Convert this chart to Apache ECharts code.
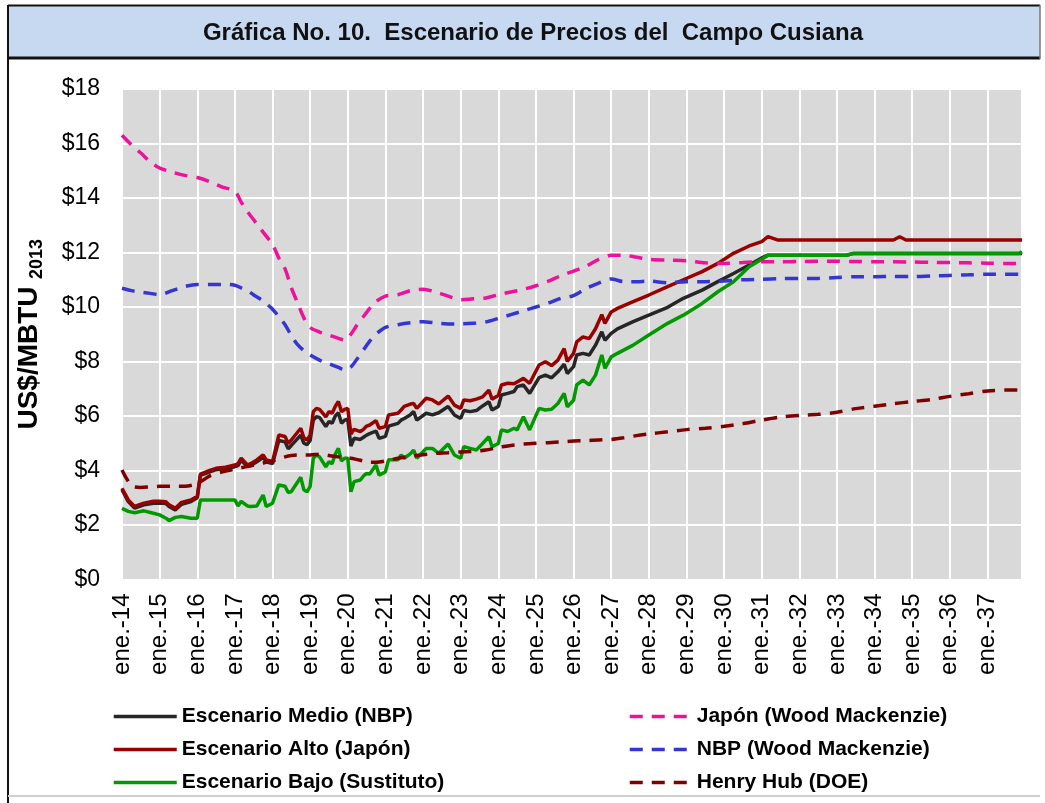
<!DOCTYPE html>
<html>
<head>
<meta charset="utf-8">
<title>Escenario de Precios del Campo Cusiana</title>
<script src="https://cdn.jsdelivr.net/npm/echarts@6/dist/echarts.min.js"></script>
<style>
  html, body { margin: 0; padding: 0; background: #fff; }
  #grafica { width: 1045px; height: 803px; }
</style>
</head>
<body>
<div id="grafica"></div>
<script>
  // etiquetas del eje X (una por año, en enero)
  const etiquetasX = ['ene.-14', 'ene.-15', 'ene.-16', 'ene.-17', 'ene.-18', 'ene.-19', 'ene.-20', 'ene.-21',
    'ene.-22', 'ene.-23', 'ene.-24', 'ene.-25', 'ene.-26', 'ene.-27', 'ene.-28', 'ene.-29', 'ene.-30',
    'ene.-31', 'ene.-32', 'ene.-33', 'ene.-34', 'ene.-35', 'ene.-36', 'ene.-37'];

  // escenarios: meses contados desde ene.-14
  const mesesEsc = [0, 2, 4, 7, 10, 12, 14, 15, 17, 19, 22, 24,
    25, 28, 30, 33, 36, 37, 38, 40, 41, 43, 45, 46, 48,
    50, 52, 53, 54, 57, 58, 59, 60, 61, 62, 63, 65, 66, 67, 68, 69, 70, 71, 72,
    73, 74, 76, 77, 78, 79, 81, 82, 84, 85, 88, 89, 90, 92, 93, 94,
    97, 99, 101, 104, 106, 108, 109, 111, 113, 115, 117, 118, 120,
    121, 123, 125, 126, 128, 130, 133, 135, 137, 139, 141, 142, 144,
    145, 147, 149, 151, 153, 154, 156, 158, 163, 168, 174, 179, 185, 190, 195, 200, 204,
    206, 209, 231, 233, 246, 248, 250, 286, 287];
  const escAlto = [3.35, 2.92, 2.68, 2.80, 2.87, 2.87, 2.85, 2.74, 2.61, 2.83, 2.92, 3.05,
    3.87, 4.00, 4.08, 4.12, 4.20, 4.25, 4.45, 4.20, 4.25, 4.39, 4.57, 4.39, 4.32,
    5.30, 5.25, 4.99, 5.12, 5.55, 5.20, 5.12, 5.30, 6.16, 6.28, 6.24, 5.97, 6.16, 6.10, 6.35, 6.53, 6.16, 6.24, 6.28,
    5.34, 5.51, 5.43, 5.51, 5.63, 5.67, 5.83, 5.55, 5.61, 6.04, 6.10, 6.22, 6.35, 6.44, 6.46, 6.28,
    6.65, 6.59, 6.44, 6.73, 6.40, 6.28, 6.59, 6.56, 6.62, 6.70, 6.95, 6.62, 6.75,
    7.14, 7.20, 7.18, 7.25, 7.38, 7.20, 7.87, 7.99, 7.85, 8.05, 8.47, 8.00, 8.30,
    8.72, 8.90, 8.84, 9.20, 9.72, 9.40, 9.82, 9.95, 10.20, 10.44, 10.75, 11.00, 11.30, 11.60, 11.97, 12.24, 12.40,
    12.58, 12.46, 12.46, 12.46, 12.46, 12.58, 12.46, 12.46, 12.46];
  const escMedio = [3.30, 2.86, 2.62, 2.74, 2.80, 2.81, 2.79, 2.68, 2.55, 2.76, 2.86, 3.00,
    3.82, 3.95, 4.03, 4.07, 4.14, 4.18, 4.38, 4.14, 4.18, 4.32, 4.48, 4.32, 4.25,
    5.10, 5.05, 4.80, 4.92, 5.30, 5.00, 4.95, 5.10, 5.85, 5.97, 5.95, 5.61, 5.80, 5.73, 6.00, 6.12, 5.73, 5.85, 5.88,
    4.90, 5.18, 5.14, 5.22, 5.30, 5.35, 5.45, 5.18, 5.25, 5.63, 5.73, 5.85, 5.91, 6.05, 6.16, 5.85,
    6.10, 6.04, 6.12, 6.35, 6.04, 5.91, 6.20, 6.16, 6.20, 6.37, 6.52, 6.22, 6.35,
    6.77, 6.83, 6.90, 7.08, 7.14, 6.83, 7.41, 7.50, 7.40, 7.62, 7.90, 7.56, 7.81,
    8.24, 8.30, 8.24, 8.60, 9.09, 8.78, 9.03, 9.20, 9.46, 9.70, 9.99, 10.32, 10.62, 10.93, 11.23, 11.54, 11.80,
    11.90, 11.90, 11.90, 11.96, 11.96, 11.96, 11.96, 11.96, 11.96];
  const escBajo = [2.61, 2.50, 2.45, 2.52, 2.43, 2.37, 2.25, 2.16, 2.28, 2.31, 2.25, 2.25,
    2.92, 2.92, 2.92, 2.92, 2.92, 2.70, 2.87, 2.70, 2.68, 2.70, 3.10, 2.68, 2.80,
    3.47, 3.42, 3.19, 3.23, 3.75, 3.29, 3.22, 3.42, 4.45, 4.57, 4.50, 4.14, 4.32, 4.25, 4.60, 4.81, 4.35, 4.45, 4.45,
    3.22, 3.59, 3.65, 3.80, 3.89, 3.87, 4.20, 3.83, 3.95, 4.39, 4.39, 4.57, 4.45, 4.62, 4.75, 4.45,
    4.81, 4.81, 4.63, 4.97, 4.57, 4.45, 4.87, 4.81, 4.75, 4.99, 5.24, 4.87, 4.99,
    5.49, 5.43, 5.55, 5.49, 5.97, 5.49, 6.28, 6.22, 6.25, 6.46, 6.83, 6.34, 6.58,
    7.14, 7.32, 7.14, 7.50, 8.24, 7.75, 8.17, 8.30, 8.60, 8.97, 9.40, 9.70, 10.13, 10.56, 10.93, 11.48, 11.75,
    11.90, 11.90, 11.90, 11.96, 11.96, 11.96, 11.96, 11.96, 12.03];

  // referencias externas
  const mesesRef = [0, 3, 6, 9, 12, 16, 20, 24, 28, 32, 36, 38, 40, 42, 44, 46, 48, 50, 52, 54,
    56, 58, 60, 63, 66, 69, 71, 73, 75, 77, 79, 81, 84, 88, 92, 96, 100, 104, 108, 112,
    116, 120, 124, 128, 132, 136, 140, 144, 148, 152, 156, 160, 164, 168, 174, 180, 186, 192, 198, 204,
    210, 216, 222, 228, 234, 240, 246, 252, 258, 264, 270, 276, 282, 287];
  const japonWM = [16.30, 15.95, 15.65, 15.33, 15.10, 14.95, 14.83, 14.75, 14.60, 14.40, 14.25, 13.85, 13.50, 13.20, 12.90, 12.60, 12.30, 11.80, 11.40, 10.70,
    10.15, 9.60, 9.25, 9.08, 8.97, 8.85, 8.78, 9.00, 9.35, 9.65, 9.95, 10.20, 10.40, 10.45, 10.60, 10.65, 10.55, 10.40, 10.27, 10.30,
    10.33, 10.45, 10.55, 10.65, 10.78, 10.95, 11.15, 11.32, 11.50, 11.75, 11.90, 11.90, 11.83, 11.75, 11.72, 11.70, 11.62, 11.60, 11.63, 11.66,
    11.66, 11.67, 11.68, 11.68, 11.67, 11.66, 11.66, 11.65, 11.64, 11.63, 11.62, 11.61, 11.60, 11.60];
  const nbpWM = [10.69, 10.60, 10.55, 10.50, 10.45, 10.60, 10.75, 10.83, 10.83, 10.83, 10.80, 10.70, 10.60, 10.44, 10.30, 10.13, 9.92, 9.65, 9.35, 8.95,
    8.62, 8.40, 8.24, 8.05, 7.92, 7.78, 7.69, 7.80, 8.10, 8.42, 8.75, 9.00, 9.25, 9.35, 9.42, 9.46, 9.42, 9.38, 9.38, 9.40,
    9.45, 9.58, 9.72, 9.86, 10.00, 10.15, 10.32, 10.42, 10.68, 10.88, 11.03, 10.93, 10.93, 10.95, 10.89, 10.93, 10.93, 10.95, 11.00, 11.02,
    11.04, 11.05, 11.05, 11.08, 11.11, 11.11, 11.12, 11.12, 11.14, 11.16, 11.18, 11.20, 11.20, 11.20];
  const henryHub = [4.02, 3.45, 3.38, 3.40, 3.42, 3.42, 3.42, 3.52, 3.80, 3.95, 4.05, 4.10, 4.15, 4.20, 4.25, 4.30, 4.35, 4.42, 4.50, 4.55,
    4.57, 4.57, 4.57, 4.60, 4.55, 4.50, 4.48, 4.45, 4.40, 4.35, 4.30, 4.30, 4.35, 4.45, 4.52, 4.58, 4.63, 4.65, 4.68, 4.70,
    4.75, 4.85, 4.92, 4.97, 5.00, 5.02, 5.05, 5.08, 5.10, 5.12, 5.14, 5.20, 5.28, 5.34, 5.42, 5.50, 5.55, 5.62, 5.72, 5.85,
    5.96, 6.02, 6.06, 6.14, 6.27, 6.36, 6.45, 6.53, 6.60, 6.72, 6.82, 6.92, 6.95, 6.95];

  const fuente = "'Liberation Sans', Arial, sans-serif";

  function linea(nombre, meses, valores, color, discontinua) {
    return {
      name: nombre,
      type: 'line',
      symbol: 'none',
      color: color,
      smooth: discontinua ? 0.3 : false,
      data: meses.map(function (m, i) { return [m, valores[i]]; }),
      lineStyle: { width: 3.5, color: color, type: discontinua ? [13, 9] : 'solid' },
      animation: false
    };
  }

  const estiloLeyenda = { fontSize: 21, fontWeight: 'bold', color: '#000', fontFamily: fuente };

  let grafica = echarts.init(document.getElementById('grafica'));
  grafica.setOption({
    backgroundColor: '#fff',
    textStyle: { fontFamily: fuente },
    graphic: [
      { type: 'rect', shape: { x: 8, y: 6, width: 1032, height: 51 }, style: { fill: '#c6d9f1' } },
      { type: 'line', shape: { x1: 8, y1: 5.5, x2: 1040, y2: 5.5 }, style: { stroke: '#111', lineWidth: 2 } },
      { type: 'line', shape: { x1: 8, y1: 58, x2: 1040, y2: 58 }, style: { stroke: '#111', lineWidth: 3 } },
      { type: 'line', shape: { x1: 1040, y1: 5, x2: 1040, y2: 59 }, style: { stroke: '#777', lineWidth: 1.5 } },
      { type: 'line', shape: { x1: 8, y1: 5, x2: 8, y2: 803 }, style: { stroke: '#111', lineWidth: 2 } },
      { type: 'line', shape: { x1: 8, y1: 796, x2: 1040, y2: 796 }, style: { stroke: '#d0d0d0', lineWidth: 2 } },
      {
        type: 'text', x: 533, y: 33,
        style: {
          text: 'Gráfica No. 10.  Escenario de Precios del  Campo Cusiana',
          font: 'bold 24px ' + fuente, fill: '#111',
          textAlign: 'center', textVerticalAlign: 'middle'
        }
      }
    ],
    grid: {
      left: 122, right: 23, top: 89, bottom: 223.5,
      show: true, backgroundColor: '#d9d9d9', borderWidth: 0
    },
    legend: [
      {
        data: ['Escenario Medio (NBP)', 'Escenario Alto (Japón)', 'Escenario Bajo (Sustituto)'],
        orient: 'vertical', left: 112, top: 706, padding: 0,
        itemWidth: 63, itemHeight: 14, itemGap: 12,
        itemStyle: { opacity: 0 },
        lineStyle: { width: 3.5 },
        textStyle: estiloLeyenda
      },
      {
        data: ['Japón (Wood Mackenzie)', 'NBP (Wood Mackenzie)', 'Henry Hub (DOE)'],
        orient: 'vertical', left: 628, top: 706, padding: 0,
        itemWidth: 62, itemHeight: 14, itemGap: 12,
        itemStyle: { opacity: 0 },
        lineStyle: { width: 3.5 },
        textStyle: estiloLeyenda
      }
    ],
    xAxis: {
      type: 'value',
      min: 0,
      max: 287,
      interval: 12,
      axisLine: { show: false },
      axisTick: { show: false },
      splitLine: { show: true, lineStyle: { color: '#fff', width: 2 } },
      axisLabel: {
        rotate: 90,
        margin: 14,
        fontSize: 24,
        color: '#000',
        showMaxLabel: false,
        formatter: function (v) {
          return v % 12 === 0 ? etiquetasX[v / 12] : '';
        }
      }
    },
    yAxis: {
      type: 'value',
      min: 0,
      max: 18,
      interval: 2,
      axisLine: { show: false },
      axisTick: { show: false },
      splitLine: { lineStyle: { color: '#fff', width: 2 } },
      axisLabel: {
        margin: 22,
        fontSize: 23,
        color: '#000',
        formatter: function (v) { return '$' + v; }
      },
      name: '{a|US$/MBTU} {b|2013}',
      nameLocation: 'middle',
      nameRotate: 90,
      nameGap: 76,
      nameTextStyle: {
        fontSize: 27, fontWeight: 'bold', color: '#000',
        rich: {
          a: { fontSize: 28, fontWeight: 'bold', color: '#000', verticalAlign: 'bottom', padding: [0, 0, 3, 0] },
          b: { fontSize: 18, fontWeight: 'bold', color: '#000', verticalAlign: 'bottom' }
        }
      }
    },
    series: [
      linea('Escenario Medio (NBP)', mesesEsc, escMedio, '#262626', false),
      linea('Escenario Alto (Japón)', mesesEsc, escAlto, '#990000', false),
      linea('Escenario Bajo (Sustituto)', mesesEsc, escBajo, '#009a00', false),
      linea('Japón (Wood Mackenzie)', mesesRef, japonWM, '#ee1199', true),
      linea('NBP (Wood Mackenzie)', mesesRef, nbpWM, '#3535d0', true),
      linea('Henry Hub (DOE)', mesesRef, henryHub, '#800000', true)
    ]
  });
</script>
</body>
</html>
